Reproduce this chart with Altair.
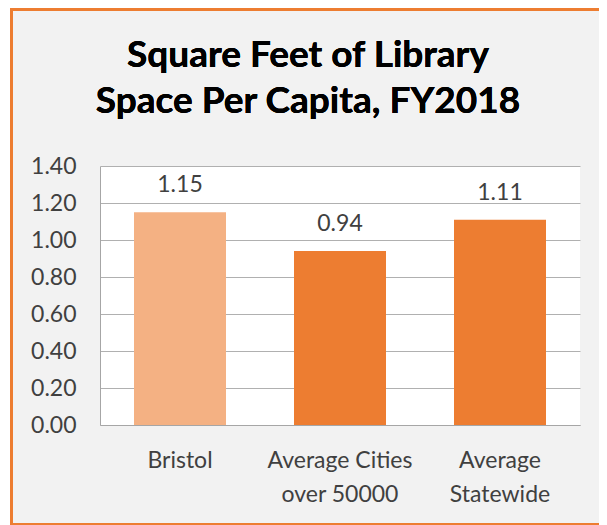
import altair as alt
import pandas as pd

title_lines = ["Square Feet of Library", "Space Per Capita, FY2018"]
categories = ["Bristol", "Average Cities\nover 50000", "Average\nStatewide"]
values = [1.15, 0.94, 1.11]
bar_colors = ["#f4b183", "#ed7d31", "#ed7d31"]
y_ticks = [0.0, 0.2, 0.4, 0.6, 0.8, 1.0, 1.2, 1.4]

df = pd.DataFrame({"category": categories, "value": values, "color": bar_colors})

FONT = "Lato"
BORDER = "#ed7d31"

x_enc = alt.X(
    "category:N",
    sort=categories,
    scale=alt.Scale(paddingInner=0.425, paddingOuter=0.2125),
    axis=alt.Axis(
        title=None, labelAngle=0, ticks=False, tickSize=0, domain=True,
        domainColor="#a6a6a6", labelFont=FONT, labelFontSize=23,
        labelColor="#404040", labelPadding=24, labelLineHeight=34,
        labelExpr="split(datum.label, '\\n')", grid=False,
    ),
)
y_enc = alt.Y(
    "value:Q",
    scale=alt.Scale(domain=[0, 1.4], nice=False),
    axis=alt.Axis(
        title=None, values=y_ticks, format=".2f", ticks=False, tickSize=0,
        domain=True, domainColor="#a6a6a6", grid=True, gridColor="#b0b0b0",
        labelFont=FONT, labelFontSize=23, labelColor="#404040", labelPadding=24,
        labelOverlap=False,
    ),
)

bars = alt.Chart(df).mark_bar().encode(
    x=x_enc, y=y_enc, color=alt.Color("color:N", scale=None)
)
labels = alt.Chart(df).mark_text(
    font=FONT, fontSize=23, color="#404040", baseline="middle", dy=-27
).encode(x=x_enc, y=y_enc, text=alt.Text("value:Q", format=".2f"))

title = alt.Chart(df).mark_text(
    text=title_lines, font=FONT, fontSize=37, fontWeight="bold", color="black",
    lineHeight=46, baseline="alphabetic", align="center", clip=False,
).encode(x=alt.value(208), y=alt.value(-99))

# decorative frame (orange border around the chart)
left_border = alt.Chart(df).mark_rule(color=BORDER, strokeWidth=3, clip=False).encode(
    x=alt.value(-88.5), y=alt.value(-160), y2=alt.value(360)
)
top_border = alt.Chart(df).mark_rule(color=BORDER, strokeWidth=3, clip=False).encode(
    x=alt.value(-90), x2=alt.value(520), y=alt.value(-156.5)
)
bottom_border = alt.Chart(df).mark_rule(color=BORDER, strokeWidth=3, clip=False).encode(
    x=alt.value(-90), x2=alt.value(520), y=alt.value(358.5)
)
white_strip = alt.Chart(df).mark_rect(color="white", clip=False).encode(
    x=alt.value(-95), x2=alt.value(-90), y=alt.value(-170), y2=alt.value(370)
)

chart = alt.layer(bars, labels, title, white_strip, left_border, top_border, bottom_border).properties(
    width=480,
    height=259,
    background="#f2f2f2",
    padding={"left": 92, "top": 158, "right": 19, "bottom": 100},
    autosize=alt.AutoSizeParams(type="none"),
).configure_view(fill="white", stroke=None)

chart.save("out.html", embed_options={"renderer": "svg", "actions": False})
